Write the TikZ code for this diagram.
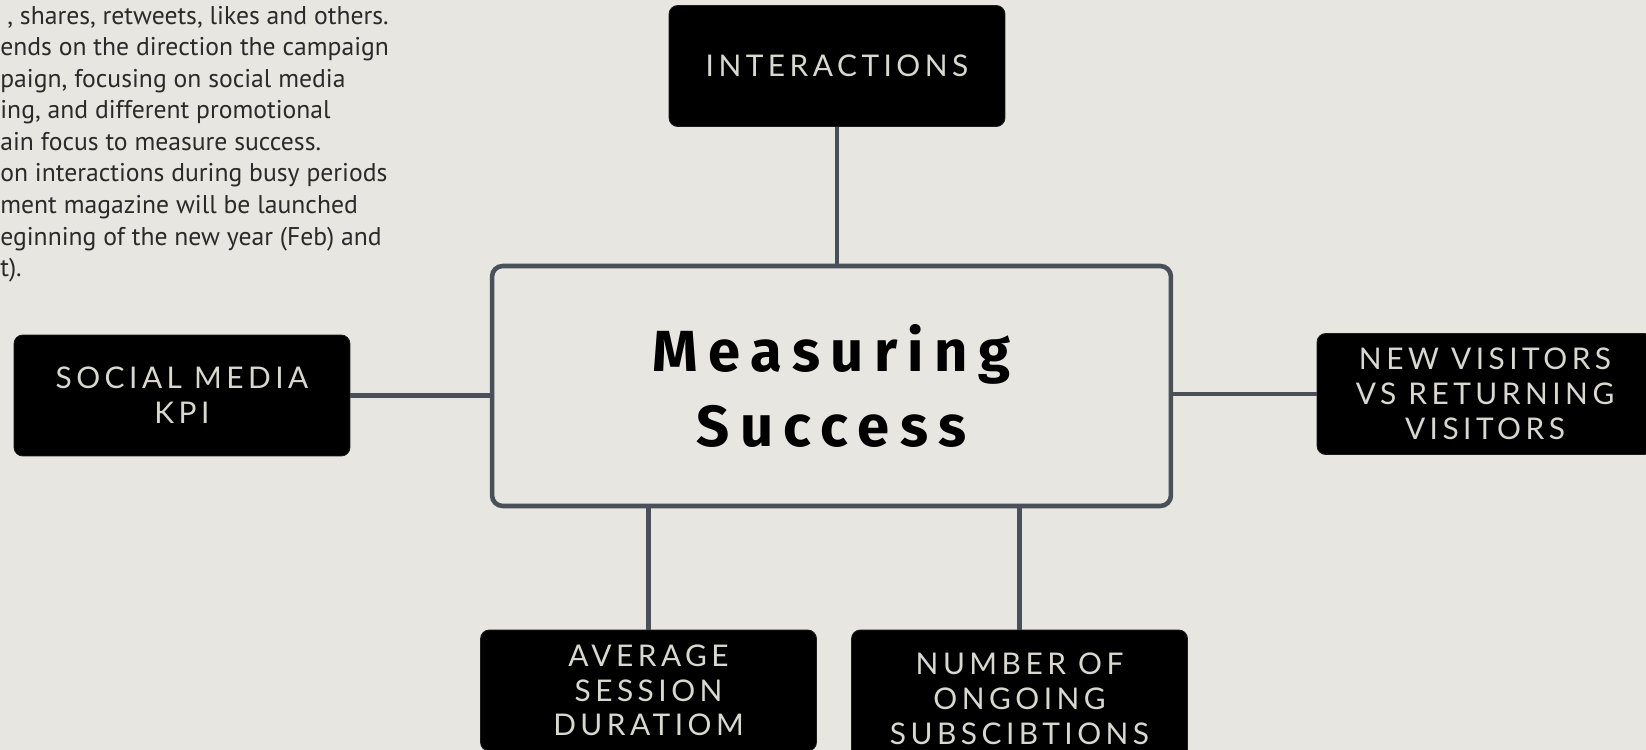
\documentclass[tikz,border=0pt]{standalone}
\usepackage{fontspec}
\setmainfont{PT Sans}
\newfontfamily\boxfont[LetterSpace=15]{Lato}
\newfontfamily\hubfont[LetterSpace=18]{Fira Sans}
\usepackage{tikz}
\usetikzlibrary{positioning}
\definecolor{paper}{HTML}{E7E6E0}
\definecolor{ink}{HTML}{2A2A2A}
\definecolor{edge}{HTML}{4A505A}
\definecolor{label}{HTML}{D8D8D0}

\begin{document}
\begin{tikzpicture}[
  x=0.02cm, y=-0.02cm,
  kpi/.style={
    rectangle, rounded corners=5pt, fill=black, draw=edge!35!black, line width=0.5pt,
    minimum width=6.72cm, minimum height=2.42cm, align=center, text=label,
    font=\boxfont\fontsize{17}{19.8}\selectfont
  },
  hub/.style={
    rectangle, rounded corners=6pt, draw=edge, line width=2.6pt, fill=paper,
    minimum width=13.58cm, minimum height=4.8cm, align=center, text=black,
    font=\hubfont\bfseries\fontsize{33}{43}\selectfont
  },
  link/.style={draw=edge, line width=2.8pt},
  note/.style={anchor=north west, inner sep=0pt, align=left, text=ink,
    font=\fontsize{14.6}{17.97}\selectfont},
]
\fill[paper] (0,0) rectangle (1646,750);
\useasboundingbox (0,0) rectangle (1646,750);

% notes running off the left edge
\node[note] (notes) at (0,5.5) {\hspace{4pt}, shares, retweets, likes and others.\\
ends on the direction the campaign\\
paign, focusing on social media\\
ing, and different promotional\\
ain focus to measure success.\\
on interactions during busy periods\\
ment magazine will be launched\\
eginning of the new year (Feb) and\\
t).};

\node[hub] (centre)   at (831.5,386)  {Measuring\\Success};
\node[kpi] (inter)    at (837,66)     {INTERACTIONS};
\node[kpi] (social)   at (182,395.5)  {SOCIAL MEDIA\\KPI};
\node[kpi] (visitors) at (1485,394)   {NEW VISITORS\\VS RETURNING\\VISITORS};
\node[kpi] (session)  at (648.5,690.5) {AVERAGE\\SESSION\\DURATIOM};
\node[kpi, minimum height=2.76cm] (subs) at (1019.5,699) {NUMBER OF\\ONGOING\\SUBSCIBTIONS};

\draw[link] (inter.south)    -- (inter.south |- centre.north);
\draw[link] (social.east)    -- (social.east -| centre.west);
\draw[link] (visitors.west)  -- (visitors.west -| centre.east);
\draw[link] (session.north)  -- (session.north |- centre.south);
\draw[link] (subs.north)     -- (subs.north |- centre.south);
\end{tikzpicture}
\end{document}
